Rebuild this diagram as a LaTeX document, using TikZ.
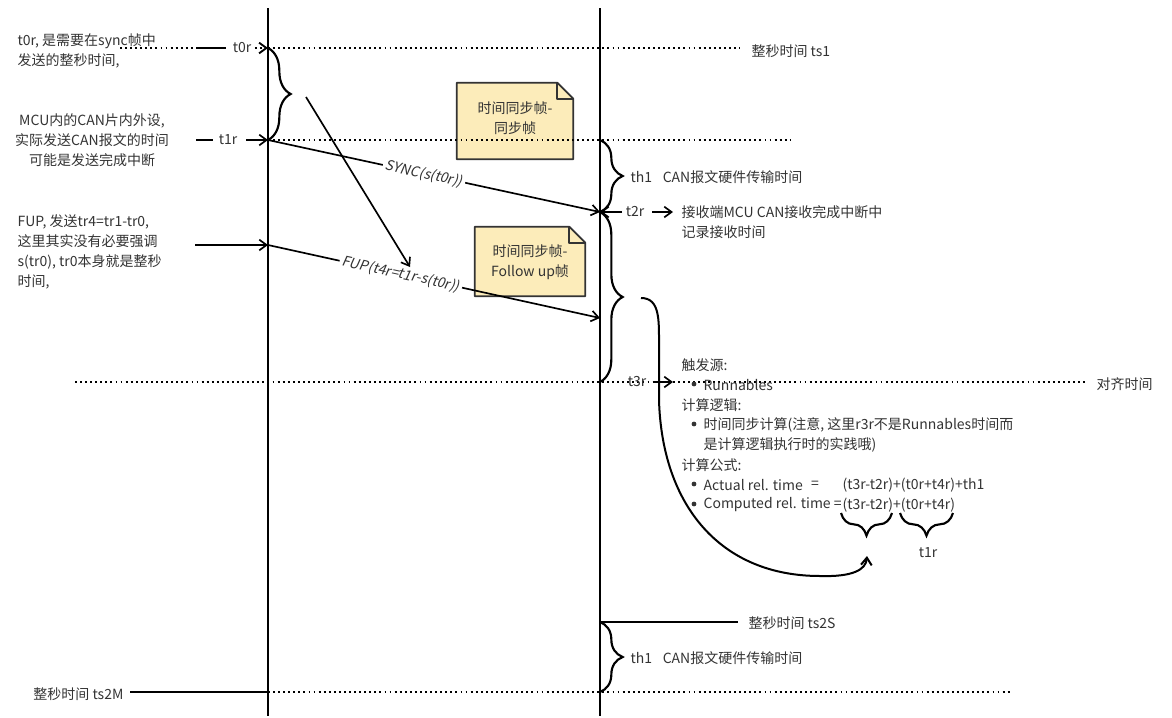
\documentclass[tikz,border=0pt]{standalone}
\usepackage{fontspec}
\setmainfont{Noto Sans CJK SC}
\newfontfamily\slfont{Noto Sans CJK SC}[FakeSlant=0.2]
\usetikzlibrary{arrows.meta,decorations.pathreplacing}
\definecolor{txt}{HTML}{333333}
\definecolor{notefill}{RGB}{252,236,186}
\begin{document}
\begin{tikzpicture}[x=0.75pt,y=-0.75pt,
  every node/.style={font=\fontsize{10.5pt}{15pt}\selectfont, text=txt, inner sep=1pt},
  lbl/.style={anchor=west},
  life/.style={line width=1.5pt},
  conn/.style={line width=1.25pt},
  arr/.style={conn, -{Straight Barb[length=5.5pt,width=8pt]}},
  dots/.style={line width=1.4pt, dash pattern=on 1.4pt off 2.4pt},
  brc/.style={line width=1.6pt, decorate, decoration={brace, amplitude=17pt}},
  slab/.style={font=\slfont\fontsize{10.5pt}{15pt}\selectfont, fill=white, sloped, inner sep=2pt},
  notedraw/.style={line width=1.3pt, draw=txt, line join=round},
  bul/.style={circle, fill=txt, inner sep=0pt, minimum size=3.6pt},
]
\useasboundingbox (0,0) rectangle (1172,718);

% lifelines
\coordinate (L1top) at (268,8);  \coordinate (L1bot) at (268,716);
\coordinate (L2top) at (600,8);  \coordinate (L2bot) at (600,716);
\draw[life] (L1top) -- (L1bot);
\draw[life] (L2top) -- (L2bot);

% points on lifelines
\coordinate (A0) at (268,48);
\coordinate (A1) at (268,140);
\coordinate (A4) at (268,245);
\coordinate (AM) at (268,692);
\coordinate (B1) at (600,140);
\coordinate (B2) at (600,212);
\coordinate (B4) at (600,318);
\coordinate (B3) at (600,382);
\coordinate (BS) at (600,622);
\coordinate (BM) at (600,692);

% notes
\node[minimum width=87pt, minimum height=57pt] (n1) at (515,121) {};
\fill[notefill] (n1.north west) -- ([xshift=-12pt]n1.north east) -- ([yshift=-12pt]n1.north east) -- (n1.south east) -- (n1.south west) -- cycle;
\draw[notedraw] (n1.north west) -- ([xshift=-12pt]n1.north east) -- ([yshift=-12pt]n1.north east) -- (n1.south east) -- (n1.south west) -- cycle;
\draw[notedraw] ([xshift=-12pt]n1.north east) -- ([xshift=-12pt,yshift=-12pt]n1.north east) -- ([yshift=-12pt]n1.north east);
\node[align=center] (n1t) at (515,118) {时间同步帧-\\同步帧};

\node[minimum width=82.5pt, minimum height=51.75pt] (n2) at (530,261.5) {};
\fill[notefill] (n2.north west) -- ([xshift=-12pt]n2.north east) -- ([yshift=-12pt]n2.north east) -- (n2.south east) -- (n2.south west) -- cycle;
\draw[notedraw] (n2.north west) -- ([xshift=-12pt]n2.north east) -- ([yshift=-12pt]n2.north east) -- (n2.south east) -- (n2.south west) -- cycle;
\draw[notedraw] ([xshift=-12pt]n2.north east) -- ([xshift=-12pt,yshift=-12pt]n2.north east) -- ([yshift=-12pt]n2.north east);
\node[align=center] (n2t) at (530,262.5) {时间同步帧-\\Follow up帧};

% horizontal time lines
\coordinate (d0a) at (120,48); \coordinate (d0b) at (196,48); \coordinate (d0c) at (226,48);
\draw[dots] (d0a) -- (d0b);
\draw[conn] (d0b) -- (d0c);
\node (t0r) at (242,48) {t0r};
\draw[dots, -{Straight Barb[length=5.5pt,width=8pt]}] (t0r.east) ++(2,0) coordinate (d0d) -- (A0);
\coordinate (d0e) at (740,48);
\draw[dots] (A0) -- (d0e);
\node[lbl] (ts1) at (750,51) {整秒时间 ts1};

\coordinate (d1a) at (196,140); \coordinate (d1b) at (213,140);
\draw[conn] (d1a) -- (d1b);
\node (t1r) at (228,140) {t1r};
\coordinate (d1c) at (246,140);
\draw[arr] (d1c) -- (A1);
\coordinate (d1e) at (790,140);
\draw[dots] (A1) -- (d1e);

\coordinate (d4a) at (195,245);
\draw[arr] (d4a) -- (A4);

\coordinate (d3a) at (75,382); \coordinate (d3e) at (1085,382);
\draw[dots] (d3a) -- (d3e);
\node (t3r) at (637,382) {t3r};
\coordinate (d3b) at (654,382); \coordinate (d3c) at (673,382);
\draw[arr] (d3b) -- (d3c);
\node[lbl] (align) at (1095,384) {对齐时间};

\coordinate (dMa) at (130,692); \coordinate (dMe) at (1010,692);
\draw[conn] (dMa) -- (AM);
\draw[dots] (AM) -- (dMe);
\node[anchor=east] (ts2M) at (125,694) {整秒时间 ts2M};

\coordinate (dSe) at (738,622);
\draw[conn] (BS) -- (dSe);
\node[lbl] (ts2S) at (747,623) {整秒时间 ts2S};

% messages
\draw[arr] (A1) -- node[slab, pos=0.47] (sync) {SYNC(s(t0r))} (B2);
\draw[arr] (A4) -- node[slab, pos=0.40] (fup) {FUP(t4r=t1r-s(t0r))} (B4);
\coordinate (dg1) at (306,97); \coordinate (dg2) at (410,267);
\draw[arr] (dg1) -- (dg2);

% t2r
\node (t2r) at (635,212) {t2r};
\coordinate (t2a) at (622,212); \coordinate (t2b) at (652,212); \coordinate (t2c) at (673,212);
\draw[arr] (t2a) -- (B2);
\draw[arr] (t2b) -- (t2c);
\node[lbl, align=left] (recv) at (680,222) {接收端MCU CAN接收完成中断中\\记录接收时间};

% braces
\draw[brc] (A0) -- (A1);
\draw[brc] (B1) -- (B2);
\draw[brc] (B2) -- (B3);
\draw[brc] (BS) -- (BM);
\node[lbl] (th1a) at (629,177) {th1\hspace{8pt}CAN报文硬件传输时间};
\node[lbl] (th1b) at (629,658) {th1\hspace{8pt}CAN报文硬件传输时间};

% left texts
\node[lbl, align=left] (c0) at (16,50.5) {t0r, 是需要在sync帧中\\发送的整秒时间,};
\node[align=center] (c1) at (92,140) {MCU内的CAN片内外设,\\实际发送CAN报文的时间\\可能是发送完成中断};
\node[lbl, align=left] (c2) at (16,251.5) {FUP, 发送tr4=tr1-tr0,\\这里其实没有必要强调\\s(tr0), tr0本身就是整秒\\时间,};

% right text block
\node[lbl] (r1) at (680,365) {触发源:};
\node[bul] (b1) at (694,384) {};
\node[lbl] (r2) at (702,385) {Runnables};
\node[lbl] (r3) at (680,405) {计算逻辑:};
\node[bul] (b2) at (694,424) {};
\node[lbl, align=left] (r4) at (702,435) {时间同步计算(注意, 这里r3r不是Runnables时间而\\是计算逻辑执行时的实践哦)};
\node[lbl] (r5) at (680,465) {计算公式:};
\node[bul] (b3) at (694,484) {};
\node[lbl] (r6) at (702,485) {Actual rel. time};
\node (r6e) at (815,485) {=};
\node[lbl] (r6f) at (841,485) {(t3r-t2r)+(t0r+t4r)+th1};
\node[bul] (b4) at (694,504) {};
\node[lbl] (r7) at (702,505) {Computed rel. time =};
\node[lbl] (r7f) at (841,505) {(t3r-t2r)+(t0r+t4r)};

\coordinate (fb1a) at (892,513); \coordinate (fb1b) at (841,513);
\coordinate (fb2a) at (953,513); \coordinate (fb2b) at (900,513);
\draw[brc] (fb1a) -- (fb1b);
\draw[brc] (fb2a) -- (fb2b);
\node (t1rb) at (928,553) {t1r};

% curved arrow
\coordinate (cs) at (641,298);
\coordinate (ce) at (867,556);
\draw[line width=1.5pt, -{Straight Barb[length=5.5pt,width=8pt]}] (cs) .. controls (660,298) and (659,320) .. (659,345) -- (659,400) .. controls (662,505) and (720,576) .. (820,576) .. controls (852,577) and (866,570) .. (ce);
\end{tikzpicture}
\end{document}
